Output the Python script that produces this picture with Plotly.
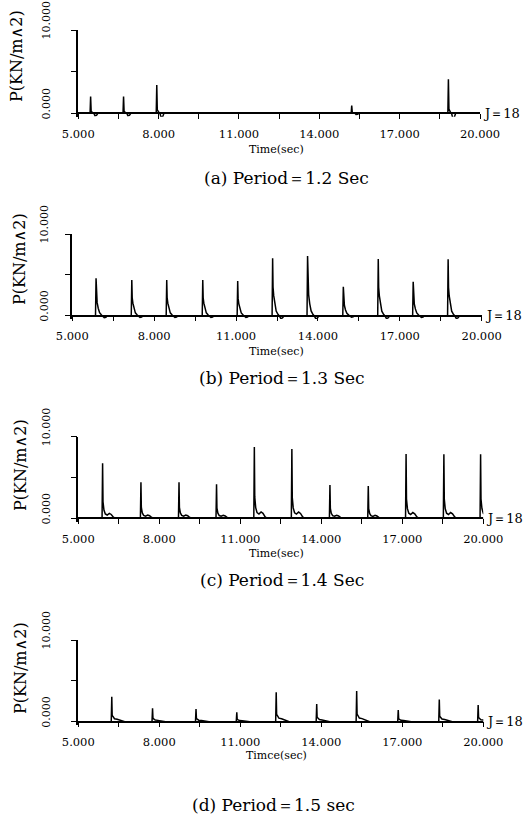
import plotly.graph_objects as go

W, H = 524, 816
FONT = "DejaVu Serif"

# ---------------- data ----------------
peaks_a_t = [5.46, 6.69, 7.93, 15.21, 18.82]
peaks_a_p = [2.00, 2.00, 3.40, 0.92, 4.08]

peaks_b_t = [5.87, 7.18, 8.46, 9.78, 11.06, 12.34, 13.62, 14.93, 16.21, 17.49, 18.77]
peaks_b_p = [4.57, 4.37, 4.37, 4.37, 4.24, 7.02, 7.30, 3.55, 6.94, 4.16, 6.90]

peaks_c_t = [5.90, 7.32, 8.73, 10.12, 11.52, 12.91, 14.32, 15.74, 17.14, 18.54, 19.90]
peaks_c_p = [6.73, 4.41, 4.41, 4.16, 8.73, 8.49, 4.08, 3.96, 7.88, 7.84, 7.84]

peaks_d_t = [6.24, 7.75, 9.36, 10.87, 12.33, 13.83, 15.31, 16.85, 18.37, 19.81]
peaks_d_p = [3.06, 1.63, 1.55, 1.14, 3.59, 2.16, 3.76, 1.43, 2.73, 2.04]

# pulse shape: (time offset after peak, fraction of peak)
pulse_a = [(-0.02, 0), (0, 1), (0.02, 0.12), (0.08, 0.03), (0.12, 0), (0.16, -0.14), (0.22, -0.12), (0.27, 0)]
pulse_b = [(-0.02, 0), (0, 1), (0.015, 0.5), (0.04, 0.35), (0.08, 0.2), (0.13, 0.08), (0.2, 0.02),
           (0.24, 0), (0.3, -0.05), (0.36, -0.04), (0.42, 0)]
pulse_c = [(-0.02, 0), (0, 1), (0.015, 0.3), (0.05, 0.15), (0.1, 0.08), (0.17, 0.06), (0.25, 0.09),
           (0.32, 0.07), (0.4, 0.02), (0.48, 0)]
pulse_d = [(-0.02, 0), (0, 1), (0.015, 0.25), (0.05, 0.2), (0.1, 0.12), (0.2, 0.1), (0.3, 0.06),
           (0.4, 0.02), (0.48, 0)]

x_tickvals = [5, 6.5, 8, 9.5, 11, 12.5, 14, 15.5, 17, 18.5, 20]
x_ticktext = ["5.000", "", "8.000", "", "11.000", "", "14.000", "", "17.000", "", "20.000"]
y_tickvals = [0, 5, 10]
y_ticktext = ["0.000", "", "10.000"]

captions = ["(a) Period＝1.2 Sec", "(b) Period＝1.3 Sec", "(c) Period＝1.4 Sec", "(d) Period＝1.5 sec"]
x_titles = ["Time(sec)", "Time(sec)", "Time(sec)", "Timce(sec)"]
y_title = "P(KN/m∧2)"
j_label = "J＝18"

series = [(peaks_a_t, peaks_a_p, pulse_a), (peaks_b_t, peaks_b_p, pulse_b),
          (peaks_c_t, peaks_c_p, pulse_c), (peaks_d_t, peaks_d_p, pulse_d)]

# ---------------- layout geometry (pixels) ----------------
# x_left, x_right, y_top(=10), y_zero
geo = [(78.3, 480.0, 30.0, 113.3),
       (72.3, 481.7, 234.0, 315.7),
       (78.3, 483.3, 436.7, 518.3),
       (78.3, 483.3, 640.0, 721.7)]
cap_pos = [(286, 178), (282, 378), (282, 580), (273, 805)]
xt_pos = [(276, 149), (276, 351), (276, 553), (276, 755)]
yt_pos = [(17, 56), (19, 259), (20, 465), (20, 668)]
ystand = [16, 12, 16, 16]
YMIN = -0.4


def px(x):
    return x / W


def py(y):
    return 1 - y / H


fig = go.Figure()
annotations = []
for i, ((ts, ps, pulse), (xl, xr, yt, y0)) in enumerate(zip(series, geo)):
    k = "" if i == 0 else str(i + 1)
    xs, ys = [5.0], [0.0]
    for t, p in zip(ts, ps):
        for dt, f in pulse:
            xs.append(t + dt)
            ys.append(p * f)
    xs.append(20.0)
    ys.append(0.0)
    fig.add_trace(go.Scatter(x=xs, y=ys, mode="lines", xaxis="x" + k, yaxis="y" + k,
                             line=dict(color="black", width=1.5), showlegend=False,
                             hoverinfo="skip"))
    s = (y0 - yt) / 10.0
    ybot = y0 - YMIN * s
    fig.update_layout(**{
        "xaxis" + k: dict(domain=[px(xl), px(xr)], range=[5, 20], anchor="free", position=py(y0),
                          showline=True, linecolor="black", linewidth=1.5, ticks="outside",
                          ticklen=5, tickwidth=1.2, tickcolor="black", tickvals=x_tickvals,
                          ticktext=x_ticktext, tickfont=dict(family=FONT, size=11.5, color="black"),
                          showgrid=False, zeroline=False, ticklabelstandoff=5, automargin=False),
        "yaxis" + k: dict(domain=[py(ybot), py(yt)], range=[YMIN, 10], anchor="x" + k,
                          showline=True, linecolor="black", linewidth=1.5, ticks="outside",
                          ticklen=6, tickwidth=1.2, tickcolor="black", tickvals=y_tickvals,
                          ticktext=y_ticktext, tickangle=-90,
                          tickfont=dict(family=FONT, size=11, color="black"),
                          showgrid=False, zeroline=False, ticklabelstandoff=ystand[i],
                          ticklabelshift=-8, automargin=False),
    })
    annotations.append(dict(x=20, y=0, xref="x" + k, yref="y" + k, text=j_label, showarrow=False,
                            xanchor="left", yanchor="middle", xshift=1,
                            font=dict(family=FONT, size=13, color="black")))
    annotations.append(dict(x=px(cap_pos[i][0]), y=py(cap_pos[i][1]), xref="paper", yref="paper",
                            text=captions[i], showarrow=False, xanchor="center", yanchor="middle",
                            font=dict(family=FONT, size=17, color="black")))
    annotations.append(dict(x=px(xt_pos[i][0]), y=py(xt_pos[i][1]), xref="paper", yref="paper",
                            text=x_titles[i], showarrow=False, xanchor="center", yanchor="middle",
                            font=dict(family=FONT, size=11, color="black")))
    annotations.append(dict(x=px(yt_pos[i][0]), y=py(yt_pos[i][1]), xref="paper", yref="paper",
                            text=y_title, showarrow=False, xanchor="center", yanchor="middle",
                            textangle=-90, font=dict(family=FONT, size=16, color="black")))

fig.update_layout(width=W, height=H, margin=dict(l=0, r=0, t=0, b=0, autoexpand=False),
                  paper_bgcolor="white", plot_bgcolor="white", showlegend=False,
                  annotations=annotations)

fig.write_html("out.html")
